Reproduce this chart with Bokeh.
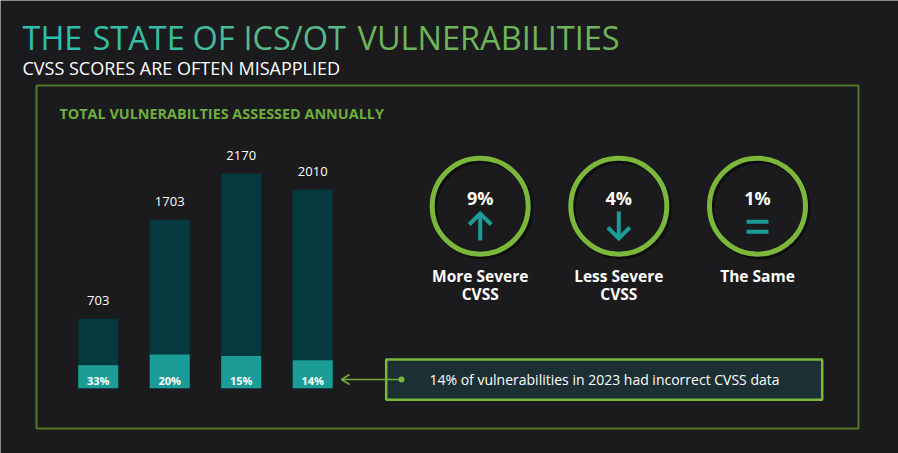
from bokeh.plotting import figure
from bokeh.models import Range1d
from bokeh.core.properties import value
from bokeh.embed import file_html
from bokeh.resources import INLINE

# ---------------- data ----------------
years = ["2020", "2021", "2022", "2023"]
totals = [703, 1703, 2170, 2010]
incorrect_pct = [33, 20, 15, 14]

indicator_values = ["9%", "4%", "1%"]
indicator_kinds = ["up", "down", "same"]
indicator_line1 = ["More Severe", "Less Severe", "The Same"]
indicator_line2 = ["CVSS", "CVSS", ""]

title_words = ["THE", "STATE", "OF", "ICS/OT", "VULNERABILITIES"]
subtitle = "CVSS SCORES ARE OFTEN MISAPPLIED"
section_title = "TOTAL VULNERABILTIES ASSESSED ANNUALLY"
callout_text = "14% of vulnerabilities in 2023 had incorrect CVSS data"

# ---------------- style ----------------
BG = "#1b1a1c"
DARK_TEAL = "#04393d"
TEAL = "#1b9c96"
GREEN = "#7ab73a"
FRAME_GREEN = "#4f7b28"
FONT = value("Open Sans")

W, H = 898, 453
p = figure(width=W, height=H, output_backend="svg", toolbar_location=None,
           x_range=Range1d(0, W), y_range=Range1d(H, 0),
           min_border=0, background_fill_color=BG, border_fill_color=BG,
           outline_line_color=None)
p.axis.visible = False
p.grid.visible = False

# bar chart coordinate system (index on x, count on y)
p.extra_x_ranges = {"bars": Range1d((0 - 97.7) / 71.5, (W - 97.7) / 71.5)}
px_per_unit = 0.0989
p.extra_y_ranges = {"count": Range1d((387.7 - H) / px_per_unit, (387.7 - 0) / px_per_unit)}

# ---------------- title ----------------
title_x = [22, 92, 192, 243, 357]
title_colors = ["#2dbfb1", "#36bea5", "#45bb97", "#56b988", "#6db55a"]
p.text(x=title_x, y=[37] * 5, text=title_words, text_color=title_colors,
       text_font=FONT, text_font_size="32.5px", text_baseline="alphabetic",
       text_align="left")
p.text(x=[22], y=[67], text=[subtitle], text_color="#ffffff", text_font=FONT,
       text_font_size="18px", text_baseline="alphabetic", text_align="left")

# ---------------- frame ----------------
p.quad(left=[36], right=[858], top=[85], bottom=[428], fill_color=None,
       line_color=FRAME_GREEN, line_width=2)
p.text(x=[59], y=[113], text=[section_title], text_color="#6dae3c", text_font=FONT,
       text_font_size="14.4px", text_font_style="bold", text_baseline="alphabetic",
       text_align="left")

# ---------------- bars ----------------
idx = list(range(len(years)))
incorrect = [t * q / 100 for t, q in zip(totals, incorrect_pct)]
p.vbar(x=idx, top=totals, bottom=0, width=0.56, fill_color=DARK_TEAL,
       line_color=None, x_range_name="bars", y_range_name="count")
p.vbar(x=idx, top=incorrect, bottom=0, width=0.56, fill_color=TEAL,
       line_color=None, x_range_name="bars", y_range_name="count")
p.text(x=idx, y=totals, text=[str(t) for t in totals], text_color="#ffffff",
       text_font=FONT, text_font_size="13px", text_align="center",
       text_baseline="alphabetic", y_offset=-18,
       x_range_name="bars", y_range_name="count")
p.text(x=idx, y=[0] * 4, text=[f"{q}%" for q in incorrect_pct], text_color="#ffffff",
       text_font=FONT, text_font_size="11px", text_font_style="bold",
       text_align="center", text_baseline="middle", y_offset=-8,
       x_range_name="bars", y_range_name="count")

# ---------------- indicator circles ----------------
cx = [479.7, 618.3, 757.0]
cy = [205.7] * 3
p.circle(x=[c + 2 for c in cx], y=[c + 2 for c in cy], radius=48, fill_color=None,
         line_color="#000000", line_alpha=0.45, line_width=6)
p.circle(x=cx, y=cy, radius=48, fill_color=None, line_color=GREEN, line_width=5)
p.text(x=cx, y=[197] * 3, text=indicator_values, text_color="#ffffff", text_font=FONT,
       text_font_size="18px", text_font_style="bold", text_align="center",
       text_baseline="middle")
p.text(x=cx, y=[275] * 3, text=indicator_line1, text_color="#ffffff", text_font=FONT,
       text_font_size="15.5px", text_font_style="bold", text_align="center",
       text_baseline="middle")
p.text(x=cx, y=[293] * 3, text=indicator_line2, text_color="#ffffff", text_font=FONT,
       text_font_size="15.5px", text_font_style="bold", text_align="center",
       text_baseline="middle")

# indicator symbols
xs, ys = [], []
for x0, kind in zip(cx, indicator_kinds):
    if kind == "up":
        xs += [[x0, x0], [x0 - 11, x0, x0 + 11]]
        ys += [[240, 213], [224, 213, 224]]
    elif kind == "down":
        xs += [[x0, x0], [x0 - 11, x0, x0 + 11]]
        ys += [[211, 238], [227, 238, 227]]
    else:
        p.quad(left=[x0 - 11] * 2, right=[x0 + 11] * 2, top=[219.3, 229.3],
               bottom=[223.3, 233.3], fill_color=TEAL, line_color=None)
p.multi_line(xs=xs, ys=ys, line_color=TEAL, line_width=4, line_join="miter")

# ---------------- callout ----------------
p.quad(left=[385.7], right=[821.7], top=[359], bottom=[399.3], fill_color="#1c3033",
       line_color=GREEN, line_width=2.5)
p.text(x=[604], y=[379], text=[callout_text], text_color="#ffffff", text_font=FONT,
       text_font_size="14px", text_align="center", text_baseline="middle")
p.segment(x0=[401], y0=[379], x1=[341], y1=[379], line_color="#6fae3a", line_width=1.5)
p.multi_line(xs=[[349, 341, 349]], ys=[[374, 379, 384]], line_color="#6fae3a",
             line_width=1.5)
p.scatter(x=[401], y=[379], size=6, fill_color="#7ab73a", line_color=None)

open("out.html", "w").write(file_html(p, INLINE))
